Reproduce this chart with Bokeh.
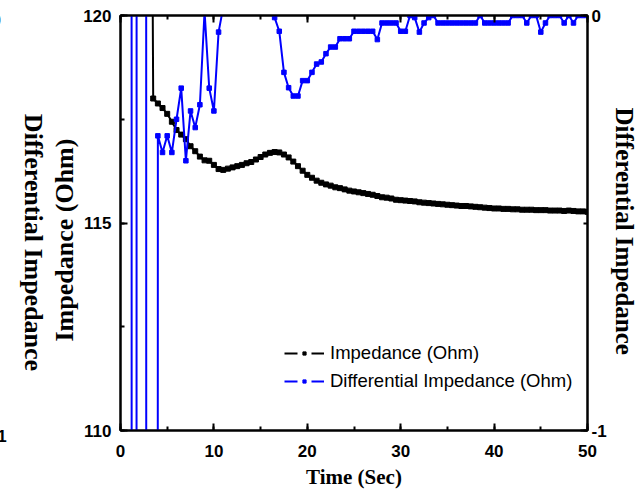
import numpy as np
from bokeh.plotting import figure
from bokeh.layouts import row
from bokeh.models import (Range1d, LinearAxis, SingleIntervalTicker, FixedTicker, Title,
                          Legend, LegendItem, ColumnDataSource, CustomJSTickFormatter)
from bokeh.embed import file_html
from bokeh.resources import INLINE

# ---------------- data ----------------
time_s = [1.0, 1.5, 2.0, 2.5, 3.0, 3.5, 4.0, 4.5, 5.0, 5.5,
          6.0, 6.5, 7.0, 7.5, 8.0, 8.5, 9.0, 9.5, 10.0, 10.5,
          11.0, 11.5, 12.0, 12.5, 13.0, 13.5, 14.0, 14.5, 15.0, 15.5,
          16.0, 16.5, 17.0, 17.5, 18.0, 18.5, 19.0, 19.5, 20.0, 20.5,
          21.0, 21.5, 22.0, 22.5, 23.0, 23.5, 24.0, 24.5, 25.0, 25.5,
          26.0, 26.5, 27.0, 27.5, 28.0, 28.5, 29.0, 29.5, 30.0, 30.5,
          31.0, 31.5, 32.0, 32.5, 33.0, 33.5, 34.0, 34.5, 35.0, 35.5,
          36.0, 36.5, 37.0, 37.5, 38.0, 38.5, 39.0, 39.5, 40.0, 40.5,
          41.0, 41.5, 42.0, 42.5, 43.0, 43.5, 44.0, 44.5, 45.0, 45.5,
          46.0, 46.5, 47.0, 47.5, 48.0, 48.5, 49.0, 49.5, 50.0]

# Impedance (Ohm), starts at t = 3.0 s (first point off the top of the scale)
impedance_time = time_s[4:]
impedance = [140.0, 118.0, 117.88, 117.77, 117.63, 117.44, 117.24, 117.13, 117.02, 116.85,
             116.73, 116.6, 116.51, 116.5, 116.4, 116.3, 116.28, 116.31, 116.34, 116.37,
             116.4, 116.44, 116.47, 116.53, 116.59, 116.65, 116.69, 116.71, 116.7, 116.65,
             116.58, 116.48, 116.37, 116.26, 116.16, 116.09, 116.02, 115.97, 115.93, 115.9,
             115.86, 115.84, 115.81, 115.78, 115.76, 115.74, 115.72, 115.7, 115.68, 115.65,
             115.62, 115.61, 115.59, 115.56, 115.55, 115.54, 115.53, 115.52, 115.5, 115.49,
             115.48, 115.47, 115.46, 115.45, 115.44, 115.43, 115.42, 115.41, 115.41, 115.4,
             115.39, 115.38, 115.37, 115.36, 115.35, 115.35, 115.34, 115.34, 115.33, 115.33,
             115.32, 115.32, 115.32, 115.31, 115.31, 115.31, 115.3, 115.3, 115.3, 115.29,
             115.3, 115.29, 115.28, 115.28, 115.27]

# Differential impedance (right axis); several early points lie far off the scale
diff_impedance = [30.0, -50.0, 62.0, 45.0, -45.0, -45.0, -0.29, -0.33, -0.29, -0.33,
                  -0.25, -0.175, -0.35, -0.23, -0.27, -0.215, 0.01, -0.175, -0.23, -0.04,
                  0.02, 0.06, 0.08, 0.1, 0.12, 0.12, 0.1, 0.1, 0.08, 0.06,
                  0.05, -0.005, -0.038, -0.137, -0.174, -0.194, -0.194, -0.157, -0.157, -0.137,
                  -0.117, -0.112, -0.092, -0.076, -0.076, -0.056, -0.056, -0.056, -0.038, -0.038,
                  -0.038, -0.038, -0.038, -0.058, -0.018, -0.018, -0.018, -0.018, -0.038, -0.038,
                  0.0, -0.005, -0.04, -0.018, -0.005, 0.0, -0.018, -0.018, -0.018, -0.018,
                  -0.018, -0.018, -0.018, -0.018, -0.018, 0.0, -0.018, -0.018, -0.018, -0.018,
                  -0.018, -0.018, 0.0, 0.0, 0.0, -0.018, 0.0, 0.0, -0.04, -0.018,
                  0.0, 0.0, 0.0, -0.018, 0.0, -0.018, 0.0, 0.0, 0.0]

series_names = ["Impedance (Ohm)", "Differential Impedance (Ohm)"]
x_title = "Time (Sec)"
left_title = "Impedance (Ohm)"
right_title = "Differential Impedance"
right_tick_labels = {-1: "-1", 0: "0"}

BLUE = "#0000FF"
TICK_FONT = "Liberation Sans"
TITLE_FONT = "Liberation Serif"

# ---------------- geometry ----------------
W, H = 641, 492
STRIP_W = 45                      # fragment of the neighbouring panel at the far left
MAIN_W = W - STRIP_W
FR_L, FR_R, FR_T, FR_B = 119, 587, 15, 430   # frame edges in page pixels

# ---------------- neighbouring-panel fragment (its right axis) ----------------
strip = figure(width=STRIP_W, height=H, x_range=Range1d(0, 1),
               output_backend="svg", toolbar_location=None,
               x_axis_location=None, y_axis_location=None,
               min_border_left=0, min_border_right=STRIP_W - 2,
               outline_line_color=None, background_fill_color="white",
               border_fill_color="white")

p = figure(width=MAIN_W, height=H, x_range=Range1d(0, 50), y_range=Range1d(110, 120),
           output_backend="svg", toolbar_location=None,
           min_border_left=FR_L - STRIP_W, min_border_right=W - FR_R,
           min_border_top=FR_T, min_border_bottom=H - FR_B,
           background_fill_color="white", border_fill_color="white")

try:
    strip.frame_align = False
    p.frame_align = False
    independent = True
except Exception:
    independent = False

if independent:
    strip.min_border_top = 19
    strip.min_border_bottom = 27
    strip.y_range = Range1d(-1.072, 0)
else:
    strip.min_border_top = FR_T
    strip.min_border_bottom = H - FR_B
    strip.y_range = Range1d(-1, 0)

strip.grid.visible = False
nax = LinearAxis(ticker=FixedTicker(ticks=[-1, 0]), major_label_overrides=right_tick_labels)
nax.axis_line_color = None
nax.major_tick_line_color = None
nax.minor_tick_line_color = None
nax.major_tick_in = 0
nax.major_tick_out = 0
nax.minor_tick_in = 0
nax.minor_tick_out = 0
nax.major_label_standoff = -9
nax.major_label_text_font = TICK_FONT
nax.major_label_text_font_style = "bold"
nax.major_label_text_font_size = "17px"
nax.major_label_text_color = "black"
nax.axis_label = right_title
nax.axis_label_standoff = 9
nax.axis_label_text_font = TITLE_FONT
nax.axis_label_text_font_style = "bold"
nax.axis_label_text_font_size = "26px"
nax.axis_label_text_color = "black"
strip.add_layout(nax, "right")

# ---------------- main figure ----------------
p.grid.visible = False
p.outline_line_color = "black"
p.outline_line_width = 2
p.extra_y_ranges = {"diff": Range1d(-1, 0)}

xaxis = p.xaxis[0]
yaxis = p.yaxis[0]
xaxis.ticker = SingleIntervalTicker(interval=10, num_minor_ticks=2)
yaxis.ticker = SingleIntervalTicker(interval=5, num_minor_ticks=2)

top = LinearAxis(ticker=SingleIntervalTicker(interval=10, num_minor_ticks=2),
                 formatter=CustomJSTickFormatter(code="return ''"))
p.add_layout(top, "above")
right = LinearAxis(y_range_name="diff", ticker=SingleIntervalTicker(interval=1, num_minor_ticks=2))
right.major_label_overrides = right_tick_labels
p.add_layout(right, "right")

for ax in (xaxis, yaxis, top, right):
    ax.axis_line_color = "black"
    ax.axis_line_width = 2
    ax.major_tick_in = 7
    ax.major_tick_out = 0
    ax.minor_tick_in = 4
    ax.minor_tick_out = 0
    ax.major_tick_line_width = 2
    ax.minor_tick_line_width = 2
    ax.major_tick_line_color = "black"
    ax.minor_tick_line_color = "black"
    ax.major_label_text_font = TICK_FONT
    ax.major_label_text_font_style = "bold"
    ax.major_label_text_color = "black"
    ax.major_label_text_font_size = "17px"

top.major_label_standoff = -30
xaxis.major_label_standoff = 14
yaxis.major_label_standoff = 9
right.major_label_standoff = 4

xaxis.axis_label = x_title
xaxis.axis_label_text_font = TITLE_FONT
xaxis.axis_label_text_font_style = "bold"
xaxis.axis_label_text_font_size = "21px"
xaxis.axis_label_text_color = "black"
xaxis.axis_label_standoff = 5

# axis titles for the two y scales
p.add_layout(Title(text=left_title, align="left", offset=89, vertical_align="bottom",
                   standoff=4, text_font=TITLE_FONT, text_font_style="bold",
                   text_font_size="26px", text_color="black"), "left")
p.add_layout(Title(text=right_title, align="left", offset=92, vertical_align="bottom",
                   standoff=2, text_font=TITLE_FONT, text_font_style="bold",
                   text_font_size="25px", text_color="black"), "right")

# ---------------- data glyphs ----------------
src_imp = ColumnDataSource(dict(t=impedance_time, v=impedance))
src_diff = ColumnDataSource(dict(t=time_s, v=diff_impedance))

p.line("t", "v", source=src_imp, line_color="black", line_width=2)
p.scatter("t", "v", source=src_imp, marker="square", size=5, color="black")
p.line("t", "v", source=src_diff, line_color=BLUE, line_width=2, y_range_name="diff")
p.scatter("t", "v", source=src_diff, marker="square", size=4.5, color=BLUE,
          y_range_name="diff")

# ---------------- legend (style samples: dash, marker, dash) ----------------
leg_src = ColumnDataSource(dict(x=np.array([np.nan]), y=np.array([np.nan])))
lb_line = p.line("x", "y", source=leg_src, line_color="black", line_width=2, line_dash="13 14")
lb_mark = p.scatter("x", "y", source=leg_src, marker="square", size=4, color="black")
lu_line = p.line("x", "y", source=leg_src, line_color=BLUE, line_width=2, line_dash="13 14")
lu_mark = p.scatter("x", "y", source=leg_src, marker="square", size=4, color=BLUE)

legend = Legend(items=[LegendItem(label=series_names[0], renderers=[lb_line, lb_mark]),
                       LegendItem(label=series_names[1], renderers=[lu_line, lu_mark])],
                location=(164, 37), padding=0, margin=0, spacing=3,
                glyph_width=40, glyph_height=8, label_height=25, label_standoff=6,
                label_text_font=TICK_FONT, label_text_font_size="18.5px",
                label_text_color="black",
                border_line_color=None, background_fill_alpha=0)
p.add_layout(legend)

layout = row(strip, p)
open("out.html", "w").write(file_html(layout, INLINE))
